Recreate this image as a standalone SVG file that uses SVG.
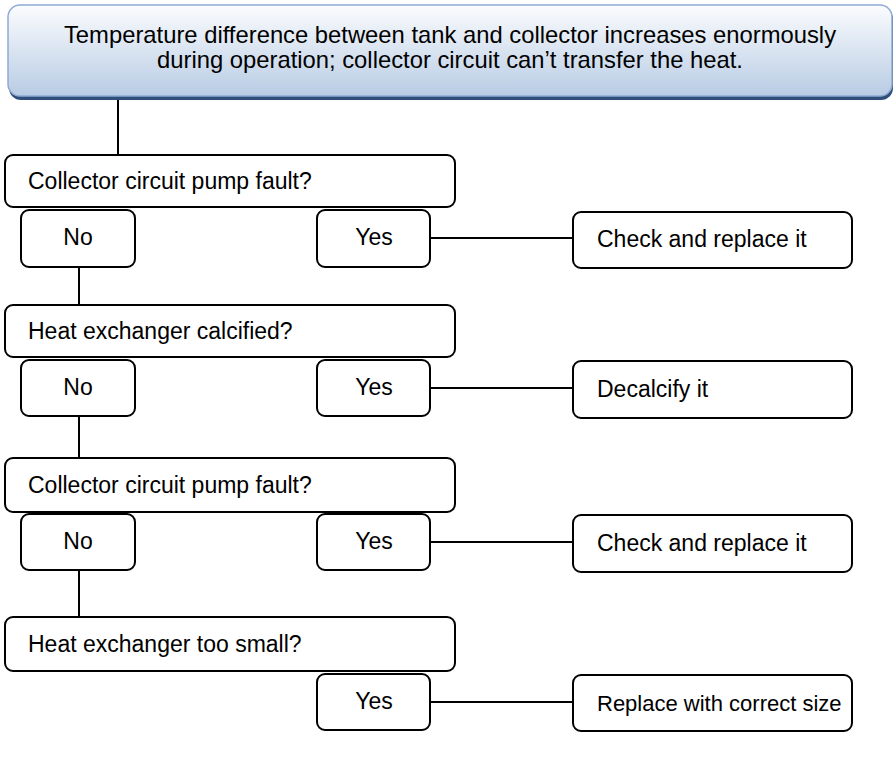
<svg xmlns="http://www.w3.org/2000/svg" width="896" height="774" viewBox="0 0 896 774">
<defs>
<linearGradient id="topg" x1="0" y1="0" x2="0" y2="1">
<stop offset="0" stop-color="#FBFCFE"/>
<stop offset="1" stop-color="#B8CCE4"/>
</linearGradient>
</defs>
<style>
.box{fill:#fff;stroke:#000;stroke-width:2}
.t{font-family:"Liberation Sans",Arial,sans-serif;font-size:23px;fill:#000}
.tt{font-size:23.8px}
.c{text-anchor:middle}
.ln{stroke:#000;stroke-width:2;fill:none}
</style>
<g id="connectors">
<line class="ln" x1="118" y1="100" x2="118" y2="155"/>
<line class="ln" x1="430" y1="238" x2="573" y2="238"/>
<line class="ln" x1="79" y1="267" x2="79" y2="305"/>
<line class="ln" x1="430" y1="388" x2="573" y2="388"/>
<line class="ln" x1="79" y1="416" x2="79" y2="458"/>
<line class="ln" x1="430" y1="542" x2="573" y2="542"/>
<line class="ln" x1="79" y1="570" x2="79" y2="617"/>
<line class="ln" x1="430" y1="702" x2="573" y2="702"/>
</g>
<g id="top">
<rect x="9" y="7" width="884" height="93" rx="12" fill="#2F4E7C"/>
<rect x="8" y="5" width="884" height="91" rx="12" fill="url(#topg)" stroke="#8FABD4" stroke-width="1.5"/>
<text class="t tt c" x="450" y="43">Temperature difference between tank and collector increases enormously</text>
<text class="t tt c" x="450" y="68">during operation; collector circuit can’t transfer the heat.</text>
</g>
<g id="q1"><rect class="box" x="5" y="155" width="450" height="52" rx="8"/><text class="t" x="28" y="189">Collector circuit pump fault?</text></g>
<g id="no1"><rect class="box" x="21" y="210" width="114" height="57" rx="8"/><text class="t c" x="78" y="245">No</text></g>
<g id="yes1"><rect class="box" x="317" y="210" width="113" height="57" rx="8"/><text class="t c" x="374" y="245">Yes</text></g>
<g id="a1"><rect class="box" x="573" y="212" width="279" height="56" rx="8"/><text class="t" x="597" y="247">Check and replace it</text></g>
<g id="q2"><rect class="box" x="5" y="305" width="450" height="52" rx="8"/><text class="t" x="28" y="339">Heat exchanger calcified?</text></g>
<g id="no2"><rect class="box" x="21" y="360" width="114" height="56" rx="8"/><text class="t c" x="78" y="395">No</text></g>
<g id="yes2"><rect class="box" x="317" y="360" width="113" height="56" rx="8"/><text class="t c" x="374" y="395">Yes</text></g>
<g id="a2"><rect class="box" x="573" y="361" width="279" height="57" rx="8"/><text class="t" x="597" y="397">Decalcify it</text></g>
<g id="q3"><rect class="box" x="5" y="458" width="450" height="54" rx="8"/><text class="t" x="28" y="493">Collector circuit pump fault?</text></g>
<g id="no3"><rect class="box" x="21" y="514" width="114" height="56" rx="8"/><text class="t c" x="78" y="549">No</text></g>
<g id="yes3"><rect class="box" x="317" y="514" width="113" height="56" rx="8"/><text class="t c" x="374" y="549">Yes</text></g>
<g id="a3"><rect class="box" x="573" y="515" width="279" height="57" rx="8"/><text class="t" x="597" y="551">Check and replace it</text></g>
<g id="q4"><rect class="box" x="5" y="617" width="450" height="54" rx="8"/><text class="t" x="28" y="652">Heat exchanger too small?</text></g>
<g id="yes4"><rect class="box" x="317" y="674" width="113" height="56" rx="8"/><text class="t c" x="374" y="709">Yes</text></g>
<g id="a4"><rect class="box" x="573" y="675" width="279" height="56" rx="8"/><text class="t" x="597" y="711" style="font-size:22px">Replace with correct size</text></g>
</svg>
